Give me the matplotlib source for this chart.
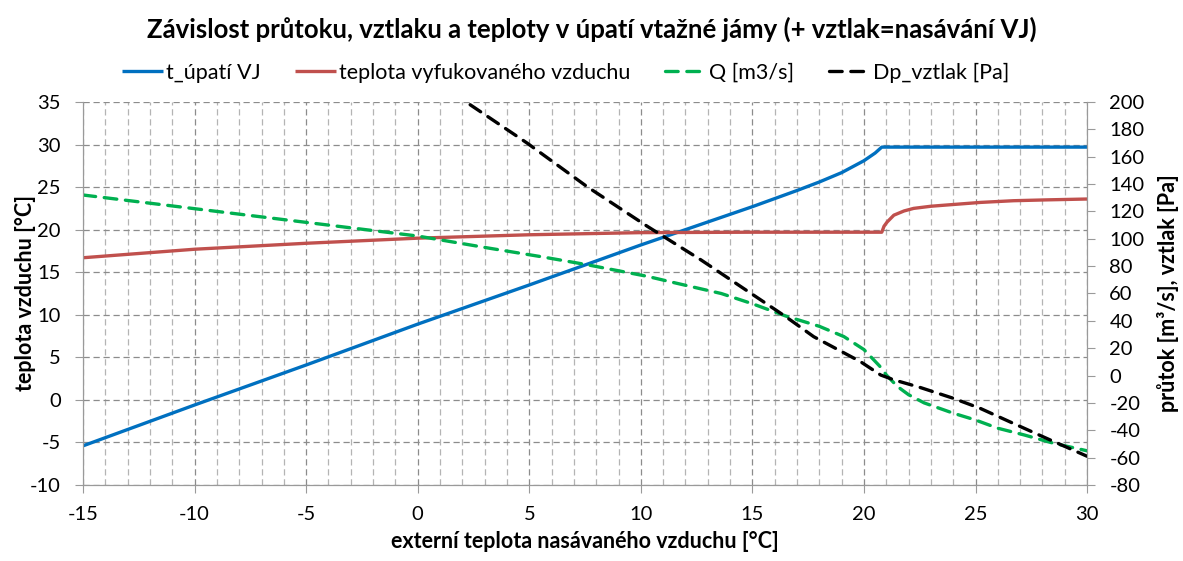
import matplotlib
matplotlib.use("Agg")
import matplotlib.pyplot as plt
from matplotlib.ticker import MultipleLocator

plt.rcParams['font.family'] = ['Lato', 'DejaVu Sans']
plt.rcParams['axes.unicode_minus'] = False

# External intake air temperature [°C] and the measured/computed series
x_blue = [-15, -10, -5, 0, 5, 10, 15, 17, 18, 19, 20, 20.5, 20.8, 30]
t_upati = [-5.4, -0.6, 4.1, 8.9, 13.5, 18.2, 22.7, 24.6, 25.6, 26.7, 28.1, 29.0, 29.7, 29.7]

x_red = [-15, -10, -5, 0, 5, 10, 15, 20.8, 20.9, 21.04, 21.34, 21.8, 22.23, 23.0,
         23.73, 25.22, 26.7, 28.2, 30]
t_vyfuk = [16.7, 17.7, 18.4, 19.0, 19.4, 19.65, 19.7, 19.7, 20.4, 20.9, 21.7, 22.2,
           22.5, 22.75, 22.9, 23.2, 23.4, 23.5, 23.6]

x_q = [-15, -10, -5, 0, 3.25, 5.5, 7.6, 10.3, 11.6, 13.6, 15, 16.5, 18, 19.1, 20,
       20.7, 21, 21.5, 22, 22.7, 24, 25, 26, 27.2, 28.5, 30]
q = [132, 122, 112, 102, 93, 87, 81, 72.5, 67.5, 60, 52.5, 43.5, 36, 28.5, 19,
     7, 0.5, -8, -14, -20, -27.5, -32.5, -38.5, -43.5, -49.5, -55]

x_dp = [2.35, 4.9, 7.6, 10.3, 12.7, 16.5, 17.75, 19.85, 20.75, 21.35, 22.5, 24,
        25.2, 26.7, 28.2, 30]
dp = [198, 170, 138, 109, 84.5, 43, 28.4, 10.1, 0.4, -3.2, -8.6, -16.6, -23.9,
      -35, -46, -59]

title = "Závislost průtoku, vztlaku a teploty v úpatí vtažné jámy (+ vztlak=nasávání VJ)"
labels = ["t_úpatí VJ", "teplota vyfukovaného vzduchu", "Q [m3/s]", "Dp_vztlak [Pa]"]

fig = plt.figure(figsize=(11.83, 5.61), dpi=100)
ax = fig.add_axes([0.0702, 0.1355, 0.8487, 0.6827])
ax2 = ax.twinx()

grid_col = "#9a9a9a"
ax.set_xlim(-15, 30)
ax.set_ylim(-10, 35)
ax2.set_ylim(-80, 200)
ax.xaxis.set_major_locator(MultipleLocator(5))
ax.xaxis.set_minor_locator(MultipleLocator(1))
ax.yaxis.set_major_locator(MultipleLocator(5))
ax2.yaxis.set_major_locator(MultipleLocator(20))

ax.grid(which="major", axis="both", color="#8c8c8c", linestyle=(0, (5, 3)), linewidth=0.9)
ax.grid(which="minor", axis="x", color="#b4b4b4", linestyle=(0, (5, 3)), linewidth=0.9)
ax.set_axisbelow(True)

for a in (ax, ax2):
    for s in a.spines.values():
        s.set_color(grid_col)
    a.spines["top"].set_visible(False)
ax.tick_params(which="major", direction="out", length=6, color=grid_col,
               labelsize=14.5)
ax.tick_params(axis="x", pad=9)
ax.tick_params(axis="y", pad=10)
ax.tick_params(which="minor", length=0)
ax2.tick_params(direction="out", length=6, color=grid_col, labelsize=14.5, pad=10)

l1, = ax.plot(x_blue, t_upati, color="#0070C0", lw=2.4, solid_capstyle="butt")
l2, = ax.plot(x_red, t_vyfuk, color="#C0504D", lw=2.4, solid_capstyle="butt")
l3, = ax2.plot(x_q, q, color="#00B050", lw=2.4, linestyle=(0, (3.8, 2.6)),
               dash_capstyle="round")
l4, = ax2.plot(x_dp, dp, color="#000000", lw=2.4, linestyle=(0, (3.8, 2.6)),
               dash_capstyle="round")

ax.set_xlabel("externí teplota nasávaného vzduchu [°C]", fontsize=15.5,
              fontweight="bold", labelpad=6)
ax.set_ylabel("teplota vzduchu [°C]", fontsize=15.5, fontweight="bold", labelpad=-4)
ax2.set_ylabel("průtok [m³/s], vztlak [Pa]", fontsize=15.5, fontweight="bold",
               labelpad=9)

fig.text(0.5, 0.947, title, ha="center", va="center", fontsize=18.5, fontweight="bold")
fig.legend([l1, l2, l3, l4], labels, loc="center", bbox_to_anchor=(0.478, 0.87),
           ncol=4, frameon=False, fontsize=15.5, handlelength=1.9,
           columnspacing=1.6, handletextpad=0.15)

fig.savefig("out.png", dpi=100)
